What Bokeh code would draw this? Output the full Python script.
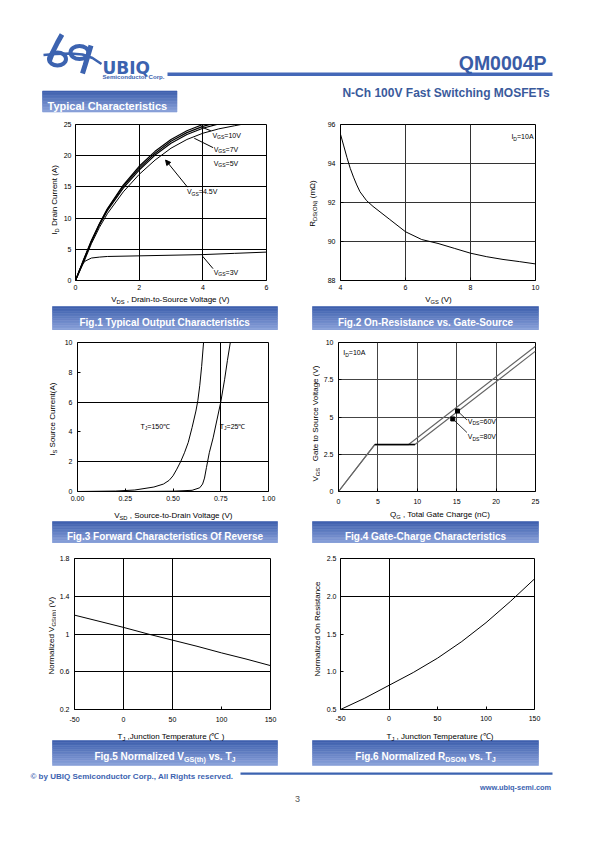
import math
import numpy as np
from bokeh.plotting import figure
from bokeh.layouts import column, row
from bokeh.models import (Range1d, FixedTicker, Label, Arrow, NormalHead,
                          CustomJSTickFormatter, NumeralTickFormatter)
from bokeh.embed import file_html
from bokeh.resources import INLINE

FONT = "Liberation Sans"
BLUE = "#3c63b0"

# ---------------- data ----------------
# Fig.1 output characteristics
fig1_vds = [0, 0.25, 0.5, 0.75, 1.0, 1.5, 2.0, 2.5, 3.0, 3.5, 4.0, 4.5, 5.0, 5.5]
fig1_id_vgs10 = [0, 3.3, 6.4, 9.1, 11.5, 15.3, 18.3, 20.7, 22.6, 24.0, 25.0, 25.7, 26.2, 26.6]
fig1_id_vgs7 = [0, 3.2, 6.3, 9.0, 11.4, 15.1, 18.0, 20.4, 22.3, 23.7, 24.7, 25.4, 25.9, 26.3]
fig1_id_vgs5 = [0, 3.1, 6.2, 8.9, 11.2, 14.8, 17.7, 20.1, 22.0, 23.4, 24.4, 25.1, 25.6, 26.0]
fig1_id_vgs45 = [0, 2.8, 5.9, 8.5, 10.7, 14.2, 17.0, 19.3, 21.2, 22.6, 23.6, 24.3, 24.8, 25.3]
fig1_vds_vgs3 = [0, 0.1, 0.2, 0.3, 0.5, 0.75, 1, 2, 3, 4, 5, 6]
fig1_id_vgs3 = [0, 1.4, 2.5, 3.1, 3.6, 3.75, 3.85, 3.95, 4.05, 4.15, 4.35, 4.55]
fig1_xticks = [0, 2, 4, 6]
fig1_yticks = [0, 5, 10, 15, 20, 25]

# Fig.2 on-resistance vs gate-source voltage
fig2_vgs = [4.0, 4.1, 4.2, 4.3, 4.4, 4.5, 4.6, 4.8, 5.0, 5.5, 6.0, 6.5, 7.0, 7.5, 8.0, 8.5, 9.0, 9.5, 10.0]
fig2_rds = [95.5, 94.9, 94.3, 93.75, 93.3, 92.9, 92.55, 92.1, 91.8, 91.15, 90.5, 90.1, 89.9, 89.65,
            89.4, 89.22, 89.08, 88.97, 88.85]
fig2_xticks = [4, 6, 8, 10]
fig2_yticks = [88, 90, 92, 94, 96]

# Fig.3 body diode forward characteristics
fig3_vsd_150 = [0.0, 0.2, 0.3, 0.4, 0.45, 0.48, 0.5, 0.52, 0.54, 0.56, 0.58, 0.6, 0.62, 0.63, 0.64, 0.65, 0.66]
fig3_is_150 = [0.0, 0.03, 0.1, 0.3, 0.5, 0.75, 1.05, 1.5, 2.0, 2.6, 3.3, 4.3, 5.4, 6.1, 7.1, 8.4, 10.0]
fig3_vsd_25 = [0.3, 0.5, 0.6, 0.64, 0.655, 0.665, 0.675, 0.69, 0.71, 0.73, 0.75, 0.77, 0.785, 0.80]
fig3_is_25 = [0.0, 0.02, 0.08, 0.25, 0.5, 0.9, 1.6, 2.6, 3.6, 4.8, 6.0, 7.5, 8.8, 10.0]
fig3_xticks = [0, 0.25, 0.5, 0.75, 1.0]
fig3_yticks = [0, 2, 4, 6, 8, 10]

# Fig.4 gate charge (ramp, Miller plateau, final rise)
fig4_qg_60 = [0, 4.6, 8.9, 25]
fig4_vgs_60 = [0, 3.15, 3.15, 9.75]
fig4_qg_80 = [0, 4.6, 9.7, 25]
fig4_vgs_80 = [0, 3.15, 3.15, 9.42]
fig4_xticks = [0, 5, 10, 15, 20, 25]
fig4_yticks = [0, 2.5, 5, 7.5, 10]

# Fig.5 normalized Vgs(th)
fig5_tj = [-50, -25, 0, 25, 50, 75, 100, 125, 150]
fig5_vth = [1.2, 1.135, 1.07, 1.0, 0.935, 0.87, 0.80, 0.735, 0.665]
fig5_xticks = [-50, 0, 50, 100, 150]
fig5_yticks = [0.2, 0.6, 1.0, 1.4, 1.8]

# Fig.6 normalized Rds(on)
fig6_tj = [-50, -25, 0, 25, 50, 75, 100, 125, 150]
fig6_rds = [0.5, 0.65, 0.82, 0.99, 1.18, 1.40, 1.65, 1.93, 2.23]
fig6_xticks = [-50, 0, 50, 100, 150]
fig6_yticks = [0.5, 1.0, 1.5, 2.0, 2.5]

# ---------------- text helpers ----------------
_AR = {' ': .278, '!': .278, '(': .333, ')': .333, ',': .278, '-': .333, '.': .278, '=': .584,
       '/': .278, ':': .278, '℃': 1.0, 'Ω': .768, '©': .737}
for c, w in zip("ABCDEFGHIJKLMNOPQRSTUVWXYZ",
                [.667, .667, .722, .722, .667, .611, .778, .722, .278, .5, .667, .556, .833, .722,
                 .778, .667, .778, .722, .667, .611, .722, .667, .944, .667, .667, .611]):
    _AR[c] = w
for c, w in zip("abcdefghijklmnopqrstuvwxyz",
                [.556, .556, .5, .556, .556, .278, .556, .556, .222, .222, .5, .222, .833, .556,
                 .556, .556, .556, .333, .5, .278, .556, .5, .722, .5, .5, .5]):
    _AR[c] = w
_ARB = dict(_AR)
for c, w in zip("ABCDEFGHIJKLMNOPQRSTUVWXYZ",
                [.722, .722, .722, .722, .667, .611, .778, .722, .278, .556, .722, .611, .833, .722,
                 .778, .667, .778, .722, .667, .611, .722, .667, .944, .667, .667, .611]):
    _ARB[c] = w
for c, w in zip("abcdefghijklmnopqrstuvwxyz",
                [.556, .611, .556, .611, .556, .333, .611, .611, .278, .278, .556, .278, .889, .611,
                 .611, .611, .611, .389, .556, .333, .611, .556, .778, .556, .556, .5]):
    _ARB[c] = w


def tw(s, size, bold=False):
    t = _ARB if bold else _AR
    return sum(t.get(c, .556) for c in s) * size


def rich(p, x, y, parts, size, color="black", align="left", bold=False, angle=0.0,
         bg=None, font=FONT, dx=0.0, dy=0.0, sub_scale=0.72):
    """Compose text from (string, is_subscript) parts; (x, y) is the data anchor of the
    text's vertical middle; dx, dy are screen shifts (dy > 0 moves down)."""
    items = []
    for t, s in parts:
        fs = size * sub_scale if s else size
        lead = len(t) - len(t.lstrip(" "))
        items.append((t.strip(" "), s, fs, tw(" " * lead, fs, bold), tw(t, fs, bold)))
    total = sum(i[4] for i in items)
    start = {"left": 0.0, "center": -total / 2.0, "right": -total}[align]
    drop = size * 0.28
    base = size * 0.35
    style = "bold" if bold else "normal"
    vertical = abs(angle) > 0.1
    if bg is not None and not vertical:
        full = "".join(t for t, _ in parts)
        p.add_layout(Label(x=x, y=y, x_offset=dx + start, y_offset=-dy, text=full,
                           text_font=font, text_font_size=f"{size}px", text_font_style=style,
                           text_align="left", text_baseline="middle", text_alpha=0.0,
                           background_fill_color=bg))
    off = start
    for t, s, fs, lw, w in items:
        pos = off + lw
        if vertical:
            xo = dx + base + (drop if s else 0.0)
            yo = -dy + pos
        else:
            xo = dx + pos
            yo = -dy - base - (drop if s else 0.0)
        p.add_layout(Label(x=x, y=y, x_offset=xo, y_offset=yo, text=t, angle=angle,
                           text_font=font, text_font_size=f"{fs:.2f}px",
                           text_font_style=style, text_color=color,
                           text_align="left", text_baseline="alphabetic"))
        off += w


def decor(x0, x1, y0, y1):
    """A plain strip of the page whose data units are page pixels (y grows downward)."""
    p = figure(width=int(x1 - x0), height=int(y1 - y0), x_range=Range1d(x0, x1),
               y_range=Range1d(y1, y0), output_backend="svg", toolbar_location=None,
               x_axis_type=None, y_axis_type=None, min_border=0)
    p.outline_line_color = None
    p.background_fill_color = "white"
    p.border_fill_color = "white"
    return p


def gradient_box(p, x0, x1, y0, y1, top=(62, 96, 174), bottom=(136, 160, 216), n=14):
    edges = np.linspace(y0, y1, n + 1)
    cols = []
    for i in range(n):
        f = i / (n - 1)
        c = tuple(int(round(top[k] + (bottom[k] - top[k]) * f)) for k in range(3))
        cols.append("#%02x%02x%02x" % c)
    p.quad(left=x0, right=x1, top=edges[:-1], bottom=edges[1:], fill_color=cols,
           line_color=cols, line_width=0.6)


def banner(p, x0, x1, y0, y1, parts, size=10):
    gradient_box(p, x0, x1, y0, y1)
    rich(p, (x0 + x1) / 2.0, (y0 + y1) / 2.0, parts, size, color="white", align="center", bold=True)


def chart(x0, x1, y0, y1, frame, xr, yr, xticks, yticks, xgrid, ygrid,
          xfmt=None, yfmt=None, grid_color="black", xstand=4, ystand=4):
    fl, fr, ft, fb = frame
    p = figure(width=int(x1 - x0), height=int(y1 - y0), x_range=Range1d(*xr), y_range=Range1d(*yr),
               output_backend="svg", toolbar_location=None,
               min_border_left=int(fl - x0), min_border_right=int(x1 - fr),
               min_border_top=int(ft - y0), min_border_bottom=int(y1 - fb))
    p.outline_line_color = "black"
    p.outline_line_width = 1
    p.xaxis.ticker = FixedTicker(ticks=xticks)
    p.yaxis.ticker = FixedTicker(ticks=yticks)
    p.xgrid.ticker = FixedTicker(ticks=xgrid)
    p.ygrid.ticker = FixedTicker(ticks=ygrid)
    p.grid.grid_line_color = grid_color
    p.grid.grid_line_width = 1
    for ax in p.axis:
        ax.axis_line_color = None
        ax.major_tick_in = 3
        ax.major_tick_out = 0
        ax.major_tick_line_color = "black"
        ax.minor_tick_line_color = None
        ax.major_label_text_font = FONT
        ax.major_label_text_font_size = "7px"
        ax.major_label_text_color = "black"
    p.xaxis.major_label_standoff = xstand
    p.yaxis.major_label_standoff = ystand
    p.xaxis.formatter = xfmt or CustomJSTickFormatter(code="return tick.toString();")
    p.yaxis.formatter = yfmt or CustomJSTickFormatter(code="return tick.toString();")
    return p


HALF = math.pi / 2

# ---------------- header (page y 0..115) ----------------
hdr = decor(0, 595, 0, 115)
hdr.line([43, 55, 70, 82, 92, 101], [54.5, 53.5, 53, 54, 57.5, 63.5], line_color=BLUE, line_width=2.5)
hdr.line([61.5, 57, 52, 49], [34, 42, 52, 60], line_color=BLUE, line_width=5)
hdr.ellipse(x=57, y=58.5, width=17, height=13, fill_color=None, line_color=BLUE, line_width=4)
hdr.ellipse(x=79, y=52, width=18, height=13, fill_color=None, line_color=BLUE, line_width=4)
hdr.line([90.5, 87.5, 84.5, 82], [45, 55, 65, 73], line_color=BLUE, line_width=5)
rich(hdr, 102, 61.5, [("UBIQ", 0)], 17, color=BLUE, bold=True, font="DejaVu Sans")
rich(hdr, 102, 73.5, [("Semiconductor Corp.", 0)], 6.1, color=BLUE, bold=True)
rich(hdr, 546, 56, [("QM0004P", 0)], 19.5, color="#3a5ca6", align="right", bold=True)
hdr.quad(left=167, right=552, top=72, bottom=75.5, fill_color="#4468b8", line_color=None)
rich(hdr, 550, 88, [("N-Ch 100V Fast Switching MOSFETs", 0)], 12, color="#3a5a9c",
     align="right", bold=True)
gradient_box(hdr, 42, 176.5, 90.5, 111.5)
rich(hdr, 47, 101.2, [("Typical Characteristics", 0)], 11, color="white", bold=True)

# ---------------- row 1 (page y 115..293) ----------------
R1 = (115, 293)
l1 = decor(0, 60, *R1)
m1 = decor(285, 320, *R1)
r1 = decor(560, 595, *R1)

f1 = chart(60, 285, *R1, (74, 266, 124, 280), (0, 6), (0, 25), fig1_xticks, fig1_yticks,
           [2, 4], [5, 10, 15, 20])
for ys in (fig1_id_vgs10, fig1_id_vgs7, fig1_id_vgs5):
    f1.line(fig1_vds, ys, line_color="black", line_width=1.2)
f1.line(fig1_vds, fig1_id_vgs45, line_color="black", line_width=1)
f1.line(fig1_vds_vgs3, fig1_id_vgs3, line_color="black", line_width=1)
f1.line([4.25, 3.95], [24.0, 24.6], line_color="black", line_width=1)
f1.line([4.32, 3.73], [21.3, 22.8], line_color="black", line_width=1)
f1.line([4.32, 3.99], [1.9, 3.9], line_color="black", line_width=1)
f1.add_layout(Arrow(end=NormalHead(size=5, fill_color="black", line_color="black"),
                    x_start=3.52, y_start=14.95, x_end=2.83, y_end=19.3, line_width=1))
rich(f1, 4.3, 23.7, [("V", 0), ("GS", 1), ("=10V", 0)], 7, bg="white")
rich(f1, 4.34, 21.4, [("V", 0), ("GS", 1), ("=7V", 0)], 7, bg="white")
rich(f1, 4.34, 19.2, [("V", 0), ("GS", 1), ("=5V", 0)], 7, bg="white")
rich(f1, 3.5, 14.6, [("V", 0), ("GS", 1), ("=4.5V", 0)], 7, bg="white")
rich(f1, 4.34, 1.75, [("V", 0), ("GS", 1), ("=3V", 0)], 7, bg="white")
rich(l1, 51.5, 201, [("I", 0), ("D", 1), (" Drain Current (A)", 0)], 8, align="center", angle=HALF)

f2 = chart(320, 560, *R1, (340, 535, 124, 280), (4, 10), (88, 96), fig2_xticks, fig2_yticks,
           [6, 8], [90, 92, 94], grid_color="#333333", ystand=5)
f2.line(fig2_vgs, fig2_rds, line_color="black", line_width=1)
rich(f2, 9.94, 95.5, [("I", 0), ("D", 1), ("=10A", 0)], 7, align="right")
rich(m1, 309, 205, [("R", 0), ("DS(ON)", 1), (" (mΩ)", 0)], 8, align="center", angle=HALF)

b1 = decor(0, 595, 293, 330)
rich(b1, 170, 296.3, [("V", 0), ("DS", 1), (" , Drain-to-Source Voltage (V)", 0)], 8, align="center")
rich(b1, 438, 296.3, [("V", 0), ("GS", 1), (" (V)", 0)], 8, align="center")
banner(b1, 52, 277, 306, 330, [("Fig.1 Typical Output Characteristics", 0)])
banner(b1, 312, 538, 306, 330, [("Fig.2 On-Resistance vs. Gate-Source", 0)])

# ---------------- row 2 (page y 330..507) ----------------
R2 = (330, 507)
l2 = decor(0, 60, *R2)
m2 = decor(285, 320, *R2)
r2 = decor(560, 595, *R2)

f3 = chart(60, 285, *R2, (77, 268, 342, 494), (0, 1), (0, 10), fig3_xticks, fig3_yticks,
           [0.75], [2, 6], xfmt=NumeralTickFormatter(format="0.00"), xstand=4, ystand=5)
f3.line(fig3_vsd_150, fig3_is_150, line_color="black", line_width=1)
f3.line(fig3_vsd_25, fig3_is_25, line_color="black", line_width=1)
rich(f3, 0.33, 4.55, [("T", 0), ("J", 1), ("=150℃", 0)], 7, bg="white")
rich(f3, 0.745, 4.55, [("T", 0), ("J", 1), ("=25℃", 0)], 7, bg="white")
rich(l2, 49, 421, [("I", 0), ("S", 1), (" Source Current(A)", 0)], 8, align="center", angle=HALF)

f4 = chart(320, 560, *R2, (337, 535, 337, 491), (0, 25), (0, 10), fig4_xticks, fig4_yticks,
           [5, 10, 15, 20], [2.5, 5, 7.5], grid_color="#444444", xstand=7, ystand=5)
f4.line(fig4_qg_60, fig4_vgs_60, line_color="#666666", line_width=1.2)
f4.line(fig4_qg_80, fig4_vgs_80, line_color="#666666", line_width=1.2)
# the Miller plateau is printed heavier in the original
f4.line(fig4_qg_80[1:3], fig4_vgs_80[1:3], line_color="black", line_width=1.6)
f4.line([16.3, 15.1], [4.8, 5.4], line_color="black", line_width=0.8)
f4.line([16.3, 14.5], [3.96, 4.87], line_color="black", line_width=0.8)
f4.scatter([15.1, 14.5], [5.4, 4.87], marker="square", size=4, fill_color="black", line_color="black")
rich(f4, 0.6, 9.48, [("I", 0), ("D", 1), ("=10A", 0)], 7)
rich(f4, 16.4, 4.87, [("V", 0), ("DS", 1), ("=60V", 0)], 7)
rich(f4, 16.4, 3.85, [("V", 0), ("DS", 1), ("=80V", 0)], 7)
rich(m2, 312, 426, [("V", 0), ("GS", 1), ("   Gate to Source Voltage (V)", 0)], 8,
     align="center", angle=HALF)

b2 = decor(0, 595, 507, 543)
rich(b2, 173, 512, [("V", 0), ("SD", 1), (" , Source-to-Drain Voltage (V)", 0)], 8, align="center")
rich(b2, 440, 511, [("Q", 0), ("G", 1), (" , Total Gate Charge (nC)", 0)], 8, align="center")
banner(b2, 52, 277, 521, 543, [("Fig.3 Forward Characteristics Of Reverse", 0)])
banner(b2, 312, 538, 521, 543, [("Fig.4 Gate-Charge Characteristics", 0)])

# ---------------- row 3 (page y 543..725) ----------------
R3 = (543, 725)
l3 = decor(0, 56, *R3)
m3 = decor(285, 323, *R3)
r3 = decor(560, 595, *R3)

f5 = chart(56, 285, *R3, (73, 270, 558, 709), (-50, 150), (0.2, 1.8), fig5_xticks, fig5_yticks,
           [0, 50], [0.6, 1.0, 1.4], xstand=7, ystand=5)
f5.line(fig5_tj, fig5_vth, line_color="black", line_width=1)
rich(l3, 48.5, 636, [("Normalized V", 0), ("GS(th)", 1), (" (V)", 0)], 8, align="center", angle=HALF)

f6 = chart(323, 560, *R3, (338, 534, 554, 710), (-50, 150), (0.5, 2.5), fig6_xticks, fig6_yticks,
           [0], [2.0], yfmt=NumeralTickFormatter(format="0.0"), xstand=6, ystand=4)
f6.line(fig6_tj, fig6_rds, line_color="black", line_width=1)
rich(m3, 314, 628, [("Normalized On Resistance", 0)], 8, align="center", angle=HALF)

b3 = decor(0, 595, 725, 805)
rich(b3, 171, 733, [("T", 0), ("J", 1), (" ,Junction Temperature (℃ )", 0)], 8, align="center")
rich(b3, 440, 733, [("T", 0), ("J", 1), (" , Junction Temperature (℃)", 0)], 8, align="center")
banner(b3, 52, 277, 740, 765, [("Fig.5 Normalized V", 0), ("GS(th)", 1), (" vs. T", 0), ("J", 1)])
banner(b3, 312, 538, 740, 765, [("Fig.6 Normalized R", 0), ("DSON", 1), (" vs. T", 0), ("J", 1)])
rich(b3, 30, 773, [("© by UBIQ Semiconductor Corp., All Rights reserved.", 0)], 8,
     color=BLUE, bold=True)
b3.quad(left=240, right=552, top=772, bottom=774.2, fill_color=BLUE, line_color=None)
rich(b3, 551, 784, [("www.ubiq-semi.com", 0)], 7.4, color=BLUE, bold=True, align="right")
rich(b3, 297, 795, [("3", 0)], 9, color="#555555", align="center")

layout = column(
    hdr,
    row(l1, f1, m1, f2, r1),
    b1,
    row(l2, f3, m2, f4, r2),
    b2,
    row(l3, f5, m3, f6, r3),
    b3,
)

open("out.html", "w").write(file_html(layout, INLINE))
